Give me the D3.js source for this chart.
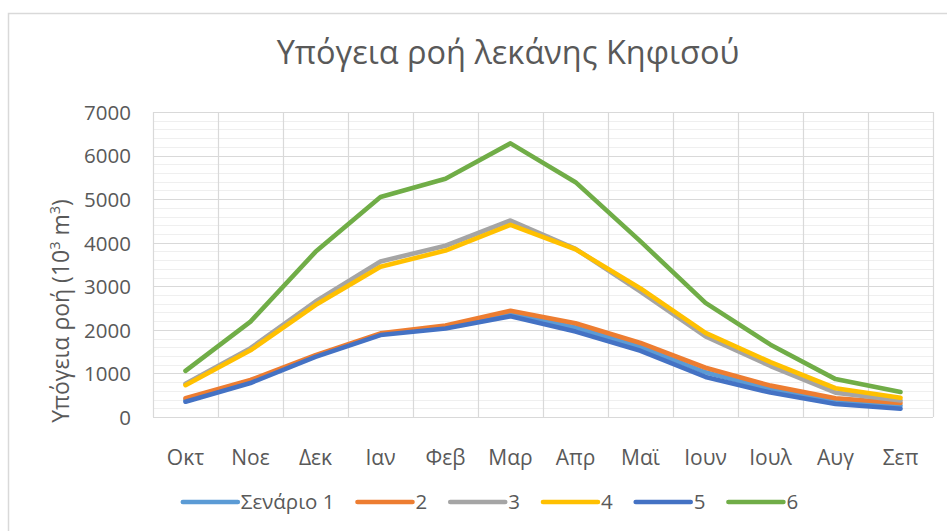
<!DOCTYPE html>
<html>
<head>
<meta charset="utf-8">
<script src="https://cdn.jsdelivr.net/npm/d3@7"></script>
<style>
  html, body { margin: 0; padding: 0; background: #fff; }
  svg text { font-family: "Open Sans", "Noto Sans", sans-serif; fill: #595959; }
</style>
</head>
<body>
<div id="container"></div>
<script>
// ==================== data ==================== //

const months = ["Οκτ", "Νοε", "Δεκ", "Ιαν", "Φεβ", "Μαρ", "Απρ", "Μαϊ", "Ιουν", "Ιουλ", "Αυγ", "Σεπ"];

const scenario1 = [390, 815, 1400, 1900, 2065, 2375, 2055, 1610, 1025, 640, 365, 255];
const scenario2 = [430, 850, 1420, 1920, 2100, 2440, 2150, 1700, 1130, 720, 430, 320];
const scenario3 = [760, 1580, 2650, 3570, 3930, 4510, 3860, 2880, 1850, 1170, 560, 380];
const scenario4 = [730, 1530, 2570, 3450, 3820, 4410, 3850, 2950, 1930, 1260, 660, 440];
const scenario5 = [350, 780, 1380, 1880, 2030, 2310, 1960, 1520, 920, 560, 300, 190];
const scenario6 = [1060, 2190, 3790, 5050, 5470, 6280, 5390, 4030, 2620, 1660, 870, 575];

const seriesNames = ["Σενάριο 1", "2", "3", "4", "5", "6"];
const seriesColors = ["#5B9BD5", "#ED7D31", "#A5A5A5", "#FFC000", "#4472C4", "#70AD47"];
const seriesValues = [scenario1, scenario2, scenario3, scenario4, scenario5, scenario6];

const yTicks = [0, 1000, 2000, 3000, 4000, 5000, 6000, 7000];

// ==================== layout ==================== //

const width = 947, height = 531;
const plot = { left: 153, right: 933, top: 112, bottom: 417 };

const svg = d3.select("#container")
    .append("svg")
    .attr("width", width)
    .attr("height", height);

// chart area border (runs off the right / bottom of the picture)
svg.append("rect")
    .attr("x", 8.5).attr("y", 13.5)
    .attr("width", 1000).attr("height", 600)
    .attr("fill", "none")
    .attr("stroke", "#d9d9d9")
    .attr("stroke-width", 1.5);

const x = d3.scaleBand().domain(months).range([plot.left, plot.right]).padding(0);
const y = d3.scaleLinear().domain([0, 7000]).range([plot.bottom, plot.top]);

// minor horizontal grid
svg.append("g")
    .selectAll("line")
    .data(d3.range(200, 7000, 200).filter(v => v % 1000 !== 0))
    .join("line")
    .attr("x1", plot.left).attr("x2", plot.right)
    .attr("y1", d => Math.round(y(d)) + 0.5).attr("y2", d => Math.round(y(d)) + 0.5)
    .attr("stroke", "#efefef")
    .attr("stroke-width", 1);

// vertical grid at category boundaries
svg.append("g")
    .selectAll("line")
    .data(months.map(m => x(m)).concat([plot.right]))
    .join("line")
    .attr("x1", d => Math.round(d) + 0.5).attr("x2", d => Math.round(d) + 0.5)
    .attr("y1", plot.top).attr("y2", plot.bottom)
    .attr("stroke", "#d9d9d9")
    .attr("stroke-width", 1.2);

// major horizontal grid
svg.append("g")
    .selectAll("line")
    .data(yTicks)
    .join("line")
    .attr("x1", plot.left).attr("x2", plot.right)
    .attr("y1", d => Math.round(y(d)) + 0.5).attr("y2", d => Math.round(y(d)) + 0.5)
    .attr("stroke", "#d9d9d9")
    .attr("stroke-width", 1.2);

// y axis labels
const yAxis = svg.append("g")
    .attr("transform", `translate(${plot.left - 22},0)`)
    .call(d3.axisLeft(y).tickValues(yTicks).tickSize(0).tickPadding(0).tickFormat(d3.format("d")));
yAxis.select(".domain").remove();
yAxis.selectAll("text")
    .attr("font-size", 20.5)
    .attr("font-family", null)
    .attr("fill", "#595959")
    .attr("dy", "0.36em");

// x axis labels
const xAxis = svg.append("g")
    .attr("transform", `translate(0,${plot.bottom})`)
    .call(d3.axisBottom(x).tickSize(0).tickPadding(0));
xAxis.select(".domain").remove();
xAxis.selectAll("text")
    .attr("font-size", 21)
    .attr("font-family", null)
    .attr("fill", "#595959")
    .attr("dy", null)
    .attr("y", 48);

// title
svg.append("text")
    .attr("x", 508).attr("y", 64)
    .attr("text-anchor", "middle")
    .attr("font-size", 32.5)
    .text("Υπόγεια ροή λεκάνης Κηφισού");

// y axis title
const yTitle = svg.append("text")
    .attr("transform", "translate(69,311) rotate(-90)")
    .attr("text-anchor", "middle")
    .attr("font-size", 23);
yTitle.append("tspan").text("Υπόγεια ροή (10");
yTitle.append("tspan").attr("font-size", 14.5).attr("dy", -9).text("3");
yTitle.append("tspan").attr("dy", 9).text(" m");
yTitle.append("tspan").attr("font-size", 14.5).attr("dy", -9).text("3");
yTitle.append("tspan").attr("dy", 9).text(")");

// lines
const line = d3.line()
    .x((d, i) => x(months[i]) + x.bandwidth() / 2)
    .y(d => y(d));

svg.append("g")
    .selectAll("path")
    .data(seriesValues)
    .join("path")
    .attr("d", d => line(d))
    .attr("fill", "none")
    .attr("stroke", (d, i) => seriesColors[i])
    .attr("stroke-width", 4.6)
    .attr("stroke-linejoin", "round")
    .attr("stroke-linecap", "round");

// legend
const legend = svg.append("g");
const items = legend.selectAll("g")
    .data(seriesNames)
    .join("g");
items.append("line")
    .attr("x1", 0).attr("x2", 55)
    .attr("y1", 0).attr("y2", 0)
    .attr("stroke", (d, i) => seriesColors[i])
    .attr("stroke-width", 4.6)
    .attr("stroke-linecap", "round");
items.append("text")
    .attr("x", 58).attr("y", 0)
    .attr("dy", "0.36em")
    .attr("font-size", 20.5)
    .text(d => d);

let offset = 0;
const positions = [];
items.each(function () {
    positions.push(offset);
    const w = d3.select(this).select("text").node().getComputedTextLength();
    offset += 58 + w + 23;
});
const totalWidth = offset - 23;
const legendStart = 490.5 - totalWidth / 2;
items.attr("transform", (d, i) => `translate(${legendStart + positions[i]},502)`);
</script>
</body>
</html>
